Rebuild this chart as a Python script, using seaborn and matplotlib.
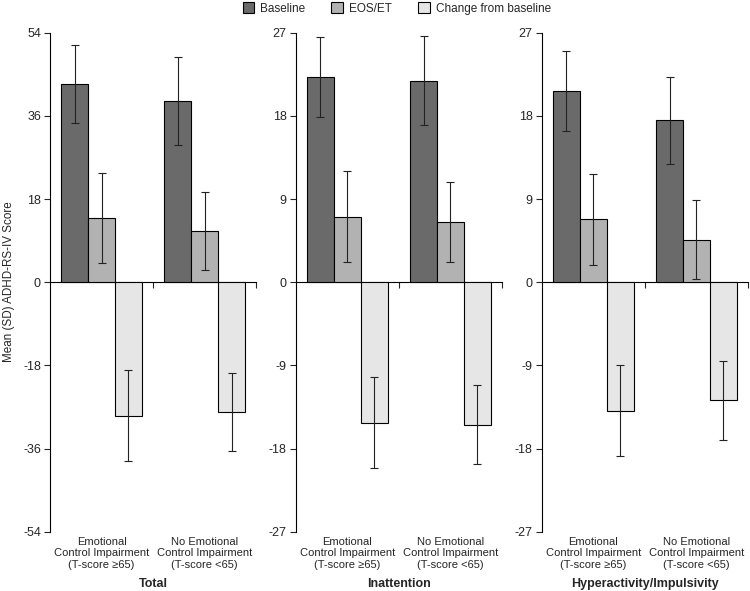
import pandas as pd
import seaborn as sns
import matplotlib.pyplot as plt
from matplotlib.patches import Patch

# Data
panels = ['Total', 'Inattention', 'Hyperactivity/Impulsivity']
groups = ['Emotional\nControl Impairment\n(T-score \u226565)',
          'No Emotional\nControl Impairment\n(T-score <65)']
measures = ['Baseline', 'EOS/ET', 'Change from baseline']

# rows = group, columns = measure
total_mean = [[42.9, 13.9, -28.9], [39.2, 11.1, -28.1]]
total_sd = [[8.5, 9.8, 9.8], [9.5, 8.5, 8.5]]
inatt_mean = [[22.2, 7.1, -15.2], [21.8, 6.5, -15.4]]
inatt_sd = [[4.3, 4.9, 4.9], [4.8, 4.3, 4.3]]
hyper_mean = [[20.7, 6.8, -13.9], [17.5, 4.6, -12.8]]
hyper_sd = [[4.3, 4.9, 4.9], [4.7, 4.3, 4.3]]

panel_means = [total_mean, inatt_mean, hyper_mean]
panel_sds = [total_sd, inatt_sd, hyper_sd]
panel_lims = [54, 27, 27]

colors = ['#6a6a6a', '#b2b2b2', '#e6e6e6']

sns.set_style('white')
plt.rcParams['font.family'] = ['Liberation Sans', 'DejaVu Sans']
plt.rcParams['axes.unicode_minus'] = False

fig = plt.figure(figsize=(7.5, 5.91), dpi=100)

lefts = [0.0667, 0.3943, 0.7223]
for i, panel in enumerate(panels):
    rows = []
    for g, grp in enumerate(groups):
        for m, meas in enumerate(measures):
            rows.append({'group': grp, 'measure': meas,
                         'mean': panel_means[i][g][m], 'sd': panel_sds[i][g][m]})
    df = pd.DataFrame(rows)

    ax = fig.add_axes([lefts[i], 0.1003, 0.275, 0.8444])
    sns.barplot(data=df, x='group', y='mean', hue='measure', order=groups,
                hue_order=measures, palette=colors, width=0.78, saturation=1,
                edgecolor='black', linewidth=0.8, errorbar=None, legend=False, ax=ax)

    # SD error bars on top of each bar
    for cont, meas in zip(ax.containers, measures):
        sub = df[df['measure'] == meas].set_index('group').loc[groups]
        xs = [b.get_x() + b.get_width() / 2 for b in cont]
        ax.errorbar(xs, sub['mean'], yerr=sub['sd'], fmt='none', ecolor='#222222',
                    elinewidth=0.8, capsize=3, capthick=0.8)

    lim = panel_lims[i]
    ax.set_xlim(-0.5, 1.5)
    ax.set_ylim(-lim, lim)
    ax.set_yticks(range(-lim, lim + 1, lim // 3))
    for s in ['top', 'right', 'bottom']:
        ax.spines[s].set_visible(False)
    ax.spines['left'].set_linewidth(0.8)
    ax.spines['left'].set_color('black')
    ax.tick_params(axis='y', direction='out', length=4, width=0.8, labelsize=9,
                   left=True, pad=2.5)
    ax.tick_params(axis='x', length=0, labelsize=8, pad=4)
    for lab in ax.get_xticklabels():
        lab.set_linespacing(1.15)
    ax.set_xlabel(panel, fontweight='bold', fontsize=9, labelpad=6)
    ax.set_ylabel('')

    # x axis line through zero with ticks at group boundaries
    sec = ax.secondary_xaxis(0.5)
    sec.set_alignment('bottom')
    sec.set_xticks([0.5, 1.5])
    sec.set_xticklabels([])
    sec.tick_params(direction='out', length=4, width=0.8)
    sec.spines['bottom'].set_linewidth(0.8)
    sec.spines['bottom'].set_color('black')

fig.text(0.012, 0.524, 'Mean (SD) ADHD-RS-IV Score', rotation=90,
         va='center', ha='center', fontsize=8.4)

handles = [Patch(facecolor=c, edgecolor='black', linewidth=0.8) for c in colors]
fig.legend(handles, measures, loc='upper center', bbox_to_anchor=(0.529, 1.014),
           ncol=3, frameon=False, fontsize=8.5, handlelength=1.0, handleheight=1.0,
           columnspacing=2.2, handletextpad=0.5)

plt.savefig('out.png', dpi=100)
